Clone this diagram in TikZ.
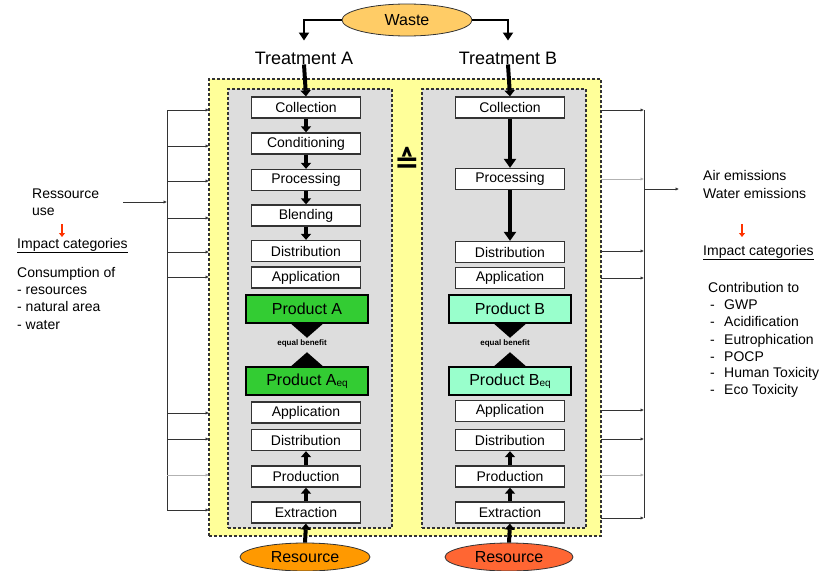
\documentclass[tikz,border=0pt]{standalone}
\usepackage{fontspec}
\setmainfont{Liberation Sans}
\newfontfamily\djv{DejaVu Sans}
\usetikzlibrary{shapes.geometric,arrows.meta,calc}
\definecolor{yelfill}{HTML}{FFFF99}
\definecolor{grayfill}{HTML}{DDDDDD}
\definecolor{gA}{HTML}{33CC33}
\definecolor{gB}{HTML}{99FFCC}
\definecolor{wasteC}{HTML}{FFCC66}
\definecolor{resA}{HTML}{FF9900}
\definecolor{resB}{HTML}{FF6633}
\definecolor{redar}{HTML}{FF3300}
\definecolor{dk}{HTML}{333333}
\begin{document}
\begin{tikzpicture}[x=1pt,y=-1pt,
 stepbox/.style={draw=dk, line width=1.3pt, fill=white, minimum width=109pt, minimum height=21pt, inner sep=0pt, font=\fontsize{14}{14}\selectfont},
 prodA/.style={draw=black, line width=1.5pt, fill=gA, minimum width=122pt, minimum height=28pt, inner sep=0pt, font=\fontsize{16}{16}\selectfont},
 prodB/.style={prodA, fill=gB},
 dashbox/.style={draw=dk, line width=1.1pt, dash pattern=on 3pt off 2pt, inner sep=0pt},
 flow/.style={line width=4pt, -{Triangle[length=6pt,width=10pt]}},
 longflow/.style={line width=4pt, -{Triangle[length=9pt,width=12pt]}},
 wflow/.style={line width=2.6pt, -{Triangle[length=8pt,width=10pt]}, shorten >=11pt},
 branch/.style={draw=dk, line width=0.9pt, -{Latex[length=3.5pt,width=3.5pt]}},
 lbranch/.style={branch, draw=gray!60},
 rail/.style={draw=dk, line width=1pt},
 redarrow/.style={draw=redar, line width=2.6pt, -{Triangle[length=4pt,width=6pt]}},
 sidetext/.style={anchor=base west, inner sep=0pt, font=\fontsize{14}{14}\selectfont},
 oval/.style={ellipse, draw=dk, line width=0.8pt, inner sep=0pt, minimum height=28pt, font=\fontsize{16}{16}\selectfont}
]
\useasboundingbox (0,0) rectangle (829,570);

% containers
\node[dashbox, fill=yelfill, minimum width=392pt, minimum height=457pt] (yb) at (405,307.5) {};
\node[dashbox, fill=grayfill, minimum width=164pt, minimum height=439pt] (ga) at (310,308.5) {};
\node[dashbox, fill=grayfill, minimum width=164pt, minimum height=439pt] (gb) at (504,308.5) {};

% waste and treatments
\node[oval, fill=wasteC, minimum width=130pt, minimum height=32pt] (w) at (407,20) {Waste};
\node[inner sep=0pt, font=\fontsize{18}{18}\selectfont] (tA) at (304,58) {Treatment A};
\node[inner sep=0pt, font=\fontsize{18}{18}\selectfont] (tB) at (508,58) {Treatment B};
\draw[wflow] (w.west) -| (tA.north);
\draw[wflow] (w.east) -| (tB.north);

\node[font=\djv\bfseries\fontsize{30}{30}\selectfont, inner sep=0pt] (eqs) at (407,160) {≙};

% column A
\node[stepbox] (a1) at (306,107.5) {Collection};
\node[stepbox] (a2) at (306,143.5) {Conditioning};
\node[stepbox] (a3) at (306,180) {Processing};
\node[stepbox] (a4) at (306,215.5) {Blending};
\node[stepbox] (a5) at (306,251) {Distribution};
\node[stepbox] (a6) at (306,277.5) {Application};
\node[prodA] (pa) at (307,309) {Product A};
\node[prodA] (paq) at (307,381) {Product A\raisebox{-1.5pt}{\fontsize{10}{10}\selectfont eq}};
\node[stepbox] (a7) at (306,412.5) {Application};
\node[stepbox] (a8) at (306,440) {Distribution};
\node[stepbox] (a9) at (306,476.5) {Production};
\node[stepbox] (a10) at (306,512.5) {Extraction};
\node[oval, fill=resA, minimum width=130pt] (ra) at (305,557) {Resource};

\draw[flow] (tA.south) -- (a1.north);
\draw[flow] (a1.south) -- (a2.north);
\draw[flow] (a2.south) -- (a3.north);
\draw[flow] (a3.south) -- (a4.north);
\draw[flow] (a4.south) -- (a5.north);
\draw[flow] (ra.north) -- (a10.south);
\draw[flow] (a10.north) -- (a9.south);
\draw[flow] (a9.north) -- (a8.south);

\fill (pa.south) ++(-16,0) -- ++(32,0) -- ++(-16,14) -- cycle;
\fill (paq.north) ++(-16,0) -- ++(32,0) -- ++(-16,-14) -- cycle;
\node[inner sep=0pt, font=\bfseries\fontsize{8}{8}\selectfont] (eqa) at (302,343) {equal benefit};

% column B
\node[stepbox] (b1) at (510,107.5) {Collection};
\node[stepbox] (b3) at (510,179) {Processing};
\node[stepbox] (b5) at (510,252) {Distribution};
\node[stepbox] (b6) at (510,278) {Application};
\node[prodB] (pb) at (510,309) {Product B};
\node[prodB] (pbq) at (510,381) {Product B\raisebox{-1.5pt}{\fontsize{10}{10}\selectfont eq}};
\node[stepbox] (b7) at (510,411) {Application};
\node[stepbox] (b8) at (510,440) {Distribution};
\node[stepbox] (b9) at (510,476.5) {Production};
\node[stepbox] (b10) at (510,512.5) {Extraction};
\node[oval, fill=resB, minimum width=128pt] (rb) at (509,557) {Resource};

\draw[flow] (tB.south) -- (b1.north);
\draw[longflow] (b1.south) -- (b3.north);
\draw[longflow] (b3.south) -- (b5.north);
\draw[flow] (rb.north) -- (b10.south);
\draw[flow] (b10.north) -- (b9.south);
\draw[flow] (b9.north) -- (b8.south);

\fill (pb.south) ++(-16,0) -- ++(32,0) -- ++(-16,14) -- cycle;
\fill (pbq.north) ++(-16,0) -- ++(32,0) -- ++(-16,-14) -- cycle;
\node[inner sep=0pt, font=\bfseries\fontsize{8}{8}\selectfont] (eqb) at (505,343) {equal benefit};

% left rail
\draw[rail] (167,110) -- (167,510);
\foreach \yy in {110,146,181,218,252,277,413,439,510}
  \draw[branch] (167,\yy) -- (209,\yy);
\draw[lbranch] (167,475) -- (209,475);
\draw[branch] (123,202) -- (167,202);

% right rail
\draw[rail] (644,110) -- (644,518);
\foreach \yy in {110,251,278,410,439,518}
  \draw[branch] (601,\yy) -- (644,\yy);
\draw[lbranch] (601,179) -- (644,179);
\draw[lbranch] (601,475) -- (644,475);
\draw[branch] (644,189) -- (679,189);

% left texts
\node[sidetext] (lt1) at (32,198) {Ressource};
\node[sidetext] (lt2) at (32,215) {use};
\draw[redarrow] (62,224) -- (62,237);
\node[sidetext] (lt3) at (17,248) {\underline{Impact categories}};
\node[sidetext] (lt4) at (17,277) {Consumption of};
\node[sidetext] (lt5) at (17,294.3) {- resources};
\node[sidetext] (lt6) at (17,311.6) {- natural area};
\node[sidetext] (lt7) at (17,329) {- water};

% right texts
\node[sidetext] (rt1) at (703,180) {Air emissions};
\node[sidetext] (rt2) at (703,198) {Water emissions};
\draw[redarrow] (742,224) -- (742,237);
\node[sidetext] (rt3) at (703,255) {\underline{Impact categories}};
\node[sidetext] (rt4) at (708,292) {Contribution to};
\foreach \yy/\txt in {309/GWP,326/Acidification,344/Eutrophication,361/POCP,377/Human Toxicity,394/Eco Toxicity}{
  \node[sidetext] at (710,\yy) {-};
  \node[sidetext] at (724,\yy) {\txt};
}
\end{tikzpicture}
\end{document}
